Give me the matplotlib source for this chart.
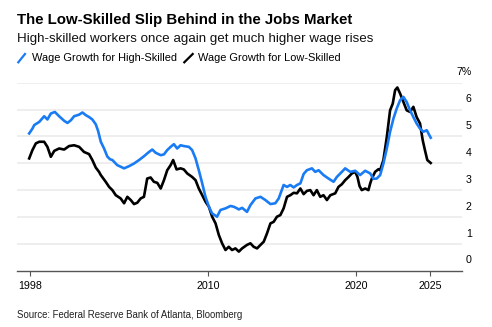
import matplotlib
matplotlib.use("Agg")
import matplotlib.pyplot as plt
import numpy as np

# Wage growth tracker, 3-month moving average of median wage growth (%)
HIGH_YEARS = [1997.95, 1998.17, 1998.29, 1998.63, 1998.96, 1999.18, 1999.41, 1999.68, 1999.97,
              2000.31, 2000.53, 2000.76, 2000.98, 2001.32, 2001.54, 2001.77, 2001.99, 2002.21,
              2002.44, 2002.60, 2002.78, 2003.00, 2003.22, 2003.40, 2003.56, 2003.89, 2004.35,
              2004.68, 2005.02, 2005.36, 2005.69, 2006.03, 2006.25, 2006.48, 2006.82, 2007.04,
              2007.26, 2007.49, 2007.71, 2007.93, 2008.16, 2008.38, 2008.72, 2008.94, 2009.17,
              2009.39, 2009.62, 2009.84, 2010.07, 2010.29, 2010.62, 2010.85, 2011.19, 2011.53,
              2011.75, 2011.97, 2012.09, 2012.31, 2012.64, 2012.87, 2013.21, 2013.55, 2013.88,
              2014.22, 2014.55, 2014.78, 2015.11, 2015.34, 2015.56, 2015.79, 2016.01, 2016.24,
              2016.46, 2016.68, 2017.02, 2017.24, 2017.47, 2017.80, 2018.14, 2018.48, 2018.70,
              2019.04, 2019.26, 2019.60, 2019.94, 2020.27, 2020.61, 2020.95, 2021.17, 2021.39,
              2021.62, 2021.84, 2022.07, 2022.29, 2022.52, 2022.74, 2022.97, 2023.19, 2023.41,
              2023.64, 2023.86, 2024.08, 2024.31, 2024.53, 2024.76, 2025.03]
HIGH_VALUES = [5.11, 5.29, 5.42, 5.54, 5.75, 5.63, 5.85, 5.91, 5.75,
               5.58, 5.50, 5.60, 5.75, 5.81, 5.89, 5.79, 5.72, 5.63,
               5.45, 5.20, 4.80, 4.55, 4.25, 4.15, 4.12, 3.93, 3.81,
               3.89, 3.99, 4.12, 4.26, 4.42, 4.51, 4.39, 4.30, 4.33,
               4.49, 4.61, 4.71, 4.55, 4.67, 4.64, 4.61, 4.49, 4.18,
               3.74, 3.25, 2.75, 2.38, 2.13, 2.01, 2.26, 2.32, 2.41,
               2.38, 2.32, 2.28, 2.34, 2.19, 2.44, 2.69, 2.75, 2.63,
               2.48, 2.51, 2.69, 3.19, 3.12, 3.19, 3.10, 3.19, 3.25,
               3.60, 3.74, 3.81, 3.68, 3.74, 3.56, 3.43, 3.31, 3.49,
               3.68, 3.81, 3.68, 3.72, 3.56, 3.72, 3.62, 3.42, 3.43,
               3.56, 3.99, 4.55, 5.17, 5.67, 6.04, 6.35, 6.47, 6.28,
               5.97, 5.72, 5.48, 5.29, 5.17, 5.23, 4.95]

LOW_YEARS = [1997.95, 1998.17, 1998.40, 1998.63, 1998.96, 1999.18, 1999.41, 1999.64, 1999.97,
             2000.31, 2000.64, 2000.98, 2001.32, 2001.65, 2001.99, 2002.21, 2002.44, 2002.66,
             2002.78, 2003.11, 2003.34, 2003.56, 2003.79, 2004.12, 2004.35, 2004.57, 2004.80,
             2005.02, 2005.24, 2005.47, 2005.69, 2005.91, 2006.14, 2006.36, 2006.59, 2006.82,
             2007.04, 2007.26, 2007.49, 2007.66, 2007.89, 2008.16, 2008.38, 2008.61, 2008.94,
             2009.17, 2009.39, 2009.62, 2009.84, 2010.07, 2010.29, 2010.52, 2010.74, 2010.96,
             2011.19, 2011.41, 2011.63, 2011.86, 2012.09, 2012.31, 2012.64, 2012.87, 2013.09,
             2013.32, 2013.55, 2013.77, 2013.99, 2014.22, 2014.44, 2014.66, 2014.89, 2015.11,
             2015.34, 2015.56, 2015.79, 2016.01, 2016.24, 2016.46, 2016.68, 2016.91, 2017.13,
             2017.35, 2017.58, 2017.80, 2018.03, 2018.26, 2018.59, 2018.81, 2019.04, 2019.26,
             2019.49, 2019.71, 2019.94, 2020.09, 2020.23, 2020.38, 2020.61, 2020.83, 2020.95,
             2021.06, 2021.28, 2021.51, 2021.62, 2021.84, 2022.07, 2022.29, 2022.47, 2022.63,
             2022.78, 2022.97, 2023.19, 2023.41, 2023.64, 2023.86, 2024.08, 2024.31, 2024.49,
             2024.64, 2024.80, 2025.03]
LOW_VALUES = [4.18, 4.49, 4.74, 4.80, 4.80, 4.61, 4.24, 4.46, 4.55,
              4.51, 4.64, 4.67, 4.61, 4.42, 4.34, 4.12, 3.84, 3.68,
              3.56, 3.31, 3.12, 3.00, 2.81, 2.69, 2.51, 2.75, 2.63,
              2.48, 2.53, 2.69, 2.75, 3.43, 3.47, 3.31, 3.27, 3.06,
              3.37, 3.74, 3.93, 4.12, 3.77, 3.81, 3.77, 3.62, 3.49,
              3.37, 3.06, 2.81, 2.57, 2.38, 2.01, 1.76, 1.33, 1.02,
              0.77, 0.89, 0.77, 0.83, 0.71, 0.83, 0.96, 1.02, 0.89,
              0.83, 0.96, 1.08, 1.39, 1.76, 1.82, 2.01, 2.07, 2.32,
              2.75, 2.81, 2.90, 2.88, 3.06, 2.85, 2.97, 3.00, 2.81,
              3.00, 2.75, 2.81, 2.63, 2.81, 2.88, 3.12, 3.22, 3.37,
              3.49, 3.62, 3.68, 3.49, 3.15, 3.00, 3.06, 3.00, 3.25,
              3.43, 3.68, 3.78, 3.74, 4.12, 4.98, 5.97, 6.22, 6.72,
              6.82, 6.59, 6.28, 5.97, 5.91, 6.10, 5.72, 5.48, 4.86,
              4.49, 4.12, 4.01]

X_TICKS = [1998, 2010, 2020, 2025]
Y_TICKS = [0, 1, 2, 3, 4, 5, 6, 7]
Y_LABELS = ["0", "1", "2", "3", "4", "5", "6", "7%"]

BLUE = "#1a7cf5"
FONT = "Liberation Sans"

plt.rcParams["font.family"] = FONT

fig = plt.figure(figsize=(4.92, 3.27), dpi=100)
ax = fig.add_axes([0.0346, 0.1722, 0.9038, 0.5750])

# gridlines
for v in Y_TICKS[1:]:
    ax.axhline(v, color="#e9e9e9", lw=1.1, zorder=0)

ax.plot(HIGH_YEARS, HIGH_VALUES, color=BLUE, lw=1.9, solid_joinstyle="round", zorder=3)
ax.plot(LOW_YEARS, LOW_VALUES, color="black", lw=1.9, solid_joinstyle="round", zorder=2)

ax.set_xlim(1997.13, 2027.12)
ax.set_ylim(0, 7)

for s in ["top", "right", "left"]:
    ax.spines[s].set_visible(False)
ax.spines["bottom"].set_color("#555555")
ax.spines["bottom"].set_linewidth(1.0)

ax.set_yticks([])
ax.set_xticks(X_TICKS)
ax.set_xticklabels([str(t) for t in X_TICKS], fontsize=7.7)
ax.tick_params(axis="x", length=3.5, width=0.8, color="#555555", pad=4)

# right-hand labels sit just above their gridlines
for v, lab in zip(Y_TICKS, Y_LABELS):
    ax.text(1.0225, v + 0.38, lab, transform=ax.get_yaxis_transform(),
            ha="right", va="center", fontsize=7.7, clip_on=False)

fig.text(0.034, 0.939, "The Low-Skilled Slip Behind in the Jobs Market",
         fontsize=10.85, fontweight="bold", ha="left", va="center")
fig.text(0.034, 0.880, "High-skilled workers once again get much higher wage rises",
         fontsize=9.6, ha="left", va="center", color="#111111")

# legend with slash markers
leg_y = 0.822
fig.lines.append(plt.Line2D([18.3 / 492, 25 / 492], [1 - 62.3 / 327, 1 - 54 / 327],
                            transform=fig.transFigure, color=BLUE, lw=1.6))
fig.text(31.7 / 492, leg_y, "Wage Growth for High-Skilled", fontsize=7.9, ha="left", va="center")
fig.lines.append(plt.Line2D([184.3 / 492, 192.7 / 492], [1 - 62.3 / 327, 1 - 54 / 327],
                            transform=fig.transFigure, color="black", lw=1.6))
fig.text(198 / 492, leg_y, "Wage Growth for Low-Skilled", fontsize=7.9, ha="left", va="center")

fig.text(0.034, 0.037, "Source: Federal Reserve Bank of Atlanta, Bloomberg",
         fontsize=6.95, ha="left", va="center", color="#222222")

fig.savefig("out.png", dpi=100)
